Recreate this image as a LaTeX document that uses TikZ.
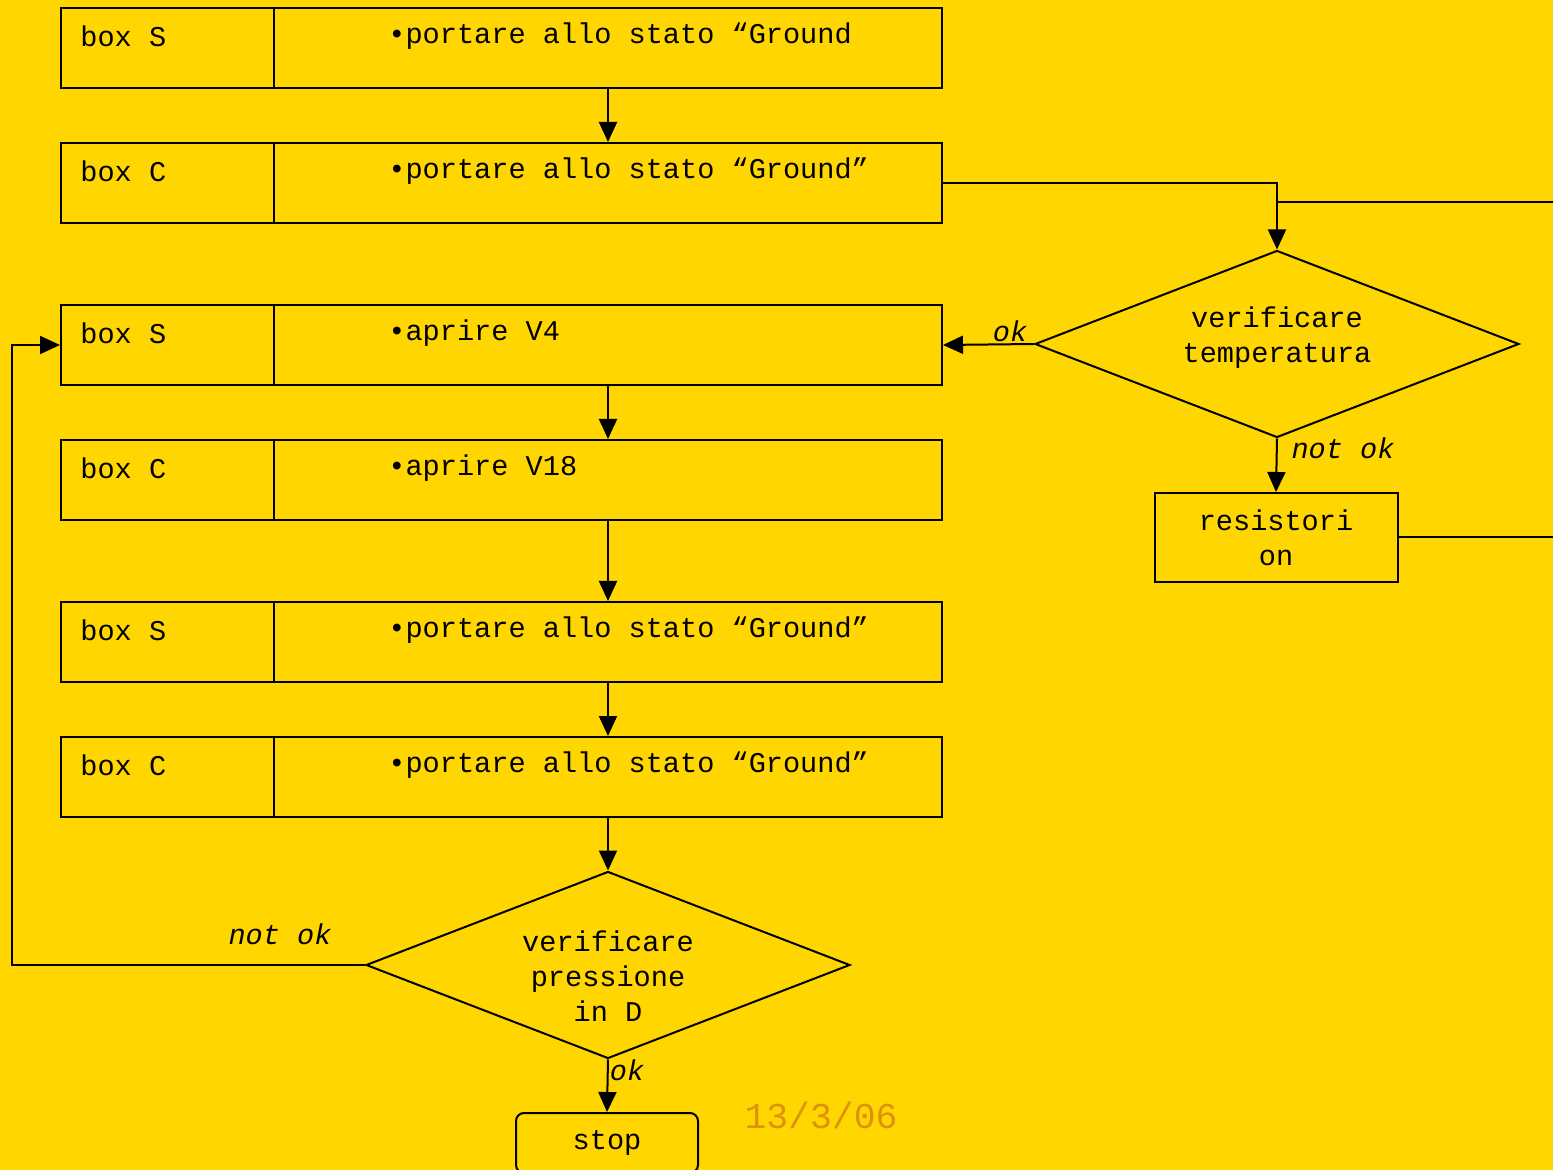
\documentclass[tikz,border=0pt]{standalone}
\usepackage{fontspec}
\setmainfont{Liberation Mono}
\usetikzlibrary{shapes.geometric,arrows.meta,calc}
\definecolor{bg}{RGB}{255,214,0}
\definecolor{datecol}{RGB}{222,146,12}
\tikzset{
  cellL/.style={draw, line width=1pt, minimum width=106.5pt, minimum height=40pt, inner sep=0pt, anchor=north west},
  cellR/.style={draw, line width=1pt, minimum width=334pt, minimum height=40pt, inner sep=0pt, anchor=north west},
  txt/.style={font=\fontsize{14.3}{17.5}\selectfont, inner sep=0pt},
  lbl/.style={font=\fontsize{14.3}{17.5}\selectfont\itshape, inner sep=0pt},
  decision/.style={draw, line width=1pt, diamond, minimum width=242pt, minimum height=93.5pt, inner sep=0pt},
  plainbox/.style={draw, line width=1pt, minimum width=121.5pt, minimum height=44.5pt, inner sep=0pt, align=center, font=\fontsize{14.3}{17.5}\selectfont},
  endbox/.style={draw, line width=1pt, rounded corners=4pt, minimum width=91pt, minimum height=30pt, inner sep=0pt, font=\fontsize{14.3}{17.5}\selectfont},
  flow/.style={line width=1pt, -{Triangle[length=10pt,width=9pt]}},
  wire/.style={line width=1pt}
}
\begin{document}
\begin{tikzpicture}[x=0.5pt, y=-0.5pt]
\useasboundingbox (0,0) rectangle (1553,1170);
\fill[bg] (0,0) rectangle (1553,1170);
\clip (0,0) rectangle (1553,1170);

% step rows: label cell + action cell
\foreach \nm/\yy/\who/\what in {
  r1/7/box S/{•portare allo stato “Ground},
  r2/142/box C/{•portare allo stato “Ground”},
  r3/304/box S/{•aprire V4},
  r4/439/box C/{•aprire V18},
  r5/601/box S/{•portare allo stato “Ground”},
  r6/736/box C/{•portare allo stato “Ground”}} {
  \node[cellL] (\nm a) at (60,\yy) {};
  \node[cellR] (\nm b) at (273,\yy) {};
  \node[txt, anchor=west] at ($(\nm a.north west)+(20,29)$) {\who};
  \node[txt, anchor=west] at ($(\nm b.north west)+(115,29)$) {\what};
}

% decisions
\node[decision] (d1) at (1277,344) {};
\node[txt, align=center] at (1277,338) {verificare\\temperatura};
\node[decision] (d2) at (608,965) {};
\node[txt, align=center] at (608,976) {verificare\\pressione\\in D};

% heater and end
\node[plainbox] (res) at (1276,537.5) {resistori\\on};
\node[endbox] (stop) at (607,1143) {stop};

% date
\node[font=\fontsize{18.2}{20}\selectfont, text=datecol, inner sep=0pt] (date) at (821,1115) {13/3/06};

% connectors
\draw[flow] (r1b.south) -- (r2b.north);
\draw[flow] (r2b.east) -| (d1.north);
\draw[flow] (d1.west) -- (r3b.east);
\draw[flow] (r3b.south) -- (r4b.north);
\draw[flow] (r4b.south) -- (r5b.north);
\draw[flow] (r5b.south) -- (r6b.north);
\draw[flow] (r6b.south) -- (d2.north);
\draw[flow] (d1.south) -- (res.north);
\draw[flow] (d2.south) -- (stop.north);

\coordinate (loopL) at (12,965);
\draw[flow] (d2.west) -- (loopL) |- (r3a.west);

\coordinate (resOut) at (1553,537.5);
\draw[wire] (res.east) -- (resOut);
\coordinate (retIn) at (1553,202);
\draw[wire] (retIn) -- (retIn -| d1.north);

% branch labels
\node[lbl] at (1010,331) {ok};
\node[lbl] at (1343,448) {not ok};
\node[lbl] at (280,934) {not ok};
\node[lbl] at (627,1070) {ok};
\end{tikzpicture}
\end{document}
